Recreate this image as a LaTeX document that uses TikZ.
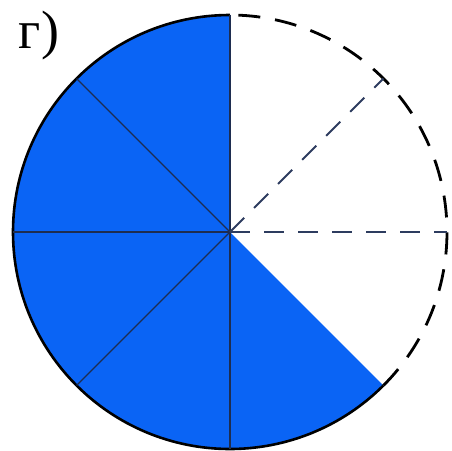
\documentclass[tikz,border=0pt]{standalone}
\usepackage{fontspec}
\setmainfont{Liberation Serif}
\definecolor{sectorblue}{RGB}{10,100,245}
\definecolor{radline}{RGB}{30,45,80}
\definecolor{dashline}{RGB}{45,60,95}
\begin{document}
\begin{tikzpicture}[x=1pt,y=-1pt,
  rim/.style={line width=2.6pt,black},
  dashrim/.style={line width=2.8pt,black,dash pattern=on 22pt off 15pt},
  inner/.style={line width=1.1pt,radline},
  dashrad/.style={line width=1.9pt,dashline,dash pattern=on 20pt off 14pt},
  lbl/.style={font=\fontsize{54}{58}\selectfont,inner sep=0pt}]
\useasboundingbox (0,0) rectangle (452,450);
\coordinate (c) at (230,232);
\def\R{217}
% blue sector (y axis flipped: math angle a is -a here)
\fill[sectorblue] (c) -- ++(-90:\R) arc[start angle=-90,end angle=-315,radius=\R] -- cycle;
\draw[rim] (c) ++(-90:\R) arc[start angle=-90,end angle=-315,radius=\R];
\foreach \a in {90,135,180,225,270}
  \draw[inner] (c) -- ++(-\a:\R);
% dashed remainder
\draw[dashrim] (c) ++(45:\R) arc[start angle=45,end angle=-90,radius=\R];
\draw[dashrad] (c) -- ++(0:\R);
\draw[dashrad] (c) -- ++(-45:\R);
\node[lbl] (label) at (39,36) {г)};
\end{tikzpicture}
\end{document}
